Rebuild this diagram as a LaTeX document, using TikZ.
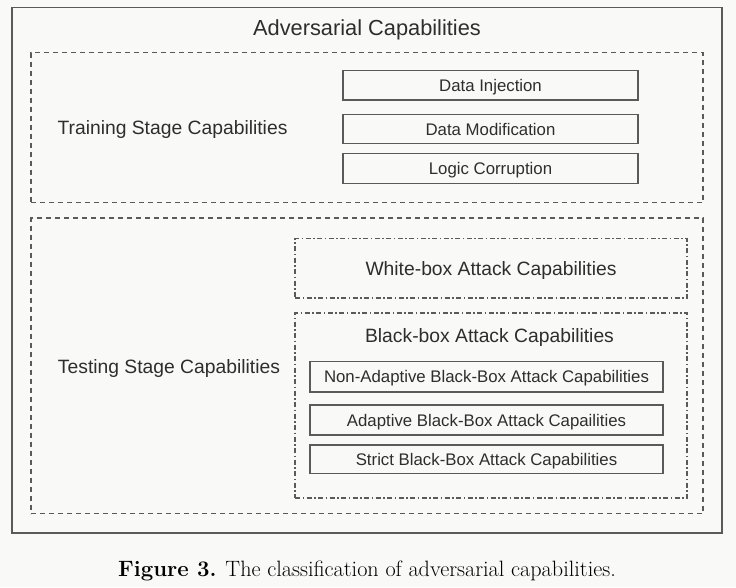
\documentclass[tikz,border=0pt]{standalone}
\usepackage{fontspec}
\newfontfamily\sansf{Liberation Sans}
\usetikzlibrary{calc}
\definecolor{bg}{HTML}{F9F9F7}
\definecolor{lineg}{HTML}{5A5A5A}
\definecolor{txt}{HTML}{2E2E2E}
\tikzset{
  frame/.style={draw=lineg, line width=1.6pt, rectangle, inner sep=0pt},
  dashbox/.style={draw=lineg, line width=1.2pt, rectangle, inner sep=0pt, dash pattern=on 5pt off 4pt},
  dotdashbox/.style={draw=lineg, line width=1.2pt, rectangle, inner sep=0pt, dash pattern=on 5pt off 2.5pt on 1.5pt off 2.5pt},
  solidbox/.style={draw=lineg, line width=1.3pt, rectangle, inner sep=0pt, text=txt, font=\sansf\fontsize{16.8}{19}\selectfont, text height=12pt, text depth=0pt},
  lbl/.style={text=txt, inner sep=0pt},
  big/.style={lbl, font=\sansf\fontsize{19.3}{22}\selectfont, text height=13.8pt, text depth=0pt},
}
\begin{document}
\begin{tikzpicture}[x=1pt, y=-1pt]
\fill[bg] (0,0) rectangle (736,587);
\useasboundingbox (0,0) rectangle (736,587);
% containers
\node[frame, minimum width=710pt, minimum height=525.5pt] (outer) at (367,270.25) {};
\node[dashbox, minimum width=672pt, minimum height=150pt] (train) at (367,127.5) {};
\node[dashbox, minimum width=672pt, minimum height=295.5pt] (test) at (367,365.75) {};
\node[dotdashbox, minimum width=392pt, minimum height=59.5pt, text=txt, font=\sansf\fontsize{19.3}{22}\selectfont, text height=13.8pt, text depth=0pt] (white) at (491,268.25) {White-box Attack Capabilities};
\node[dotdashbox, minimum width=392pt, minimum height=185pt] (black) at (491,405.5) {};
% labels
\node[lbl, font=\sansf\fontsize{21.8}{24}\selectfont, text height=15.6pt, text depth=0pt] (title) at (367,28) {Adversarial Capabilities};
\node[big] (trainlbl) at (172.5,127.5) {Training Stage Capabilities};
\node[big] (testlbl) at (169,367) {Testing Stage Capabilities};
\node[big] (blacklbl) at (489.5,336) {Black-box Attack Capabilities};
% training boxes
\node[solidbox, minimum width=295pt, minimum height=29.5pt] (di) at (490.5,85.25) {Data Injection};
\node[solidbox, minimum width=295pt, minimum height=29pt] (dm) at (490.5,129) {Data Modification};
\node[solidbox, minimum width=295pt, minimum height=30pt] (lc) at (490.5,168.5) {Logic Corruption};
% black-box boxes
\node[solidbox, minimum width=353pt, minimum height=30.5pt] (na) at (486.5,376.75) {Non-Adaptive Black-Box Attack Capabilities};
\node[solidbox, minimum width=353pt, minimum height=30pt] (ad) at (486.5,420) {Adaptive Black-Box Attack Capailities};
\node[solidbox, minimum width=353pt, minimum height=28.5pt] (st) at (486.5,459.25) {Strict Black-Box Attack Capabilities};
% caption
\node[lbl, text=black, font=\fontsize{22.2}{25}\selectfont, text height=15pt, text depth=0pt] (cap) at (367,569) {\textbf{Figure 3.} The classification of adversarial capabilities.};
\end{tikzpicture}
\end{document}
